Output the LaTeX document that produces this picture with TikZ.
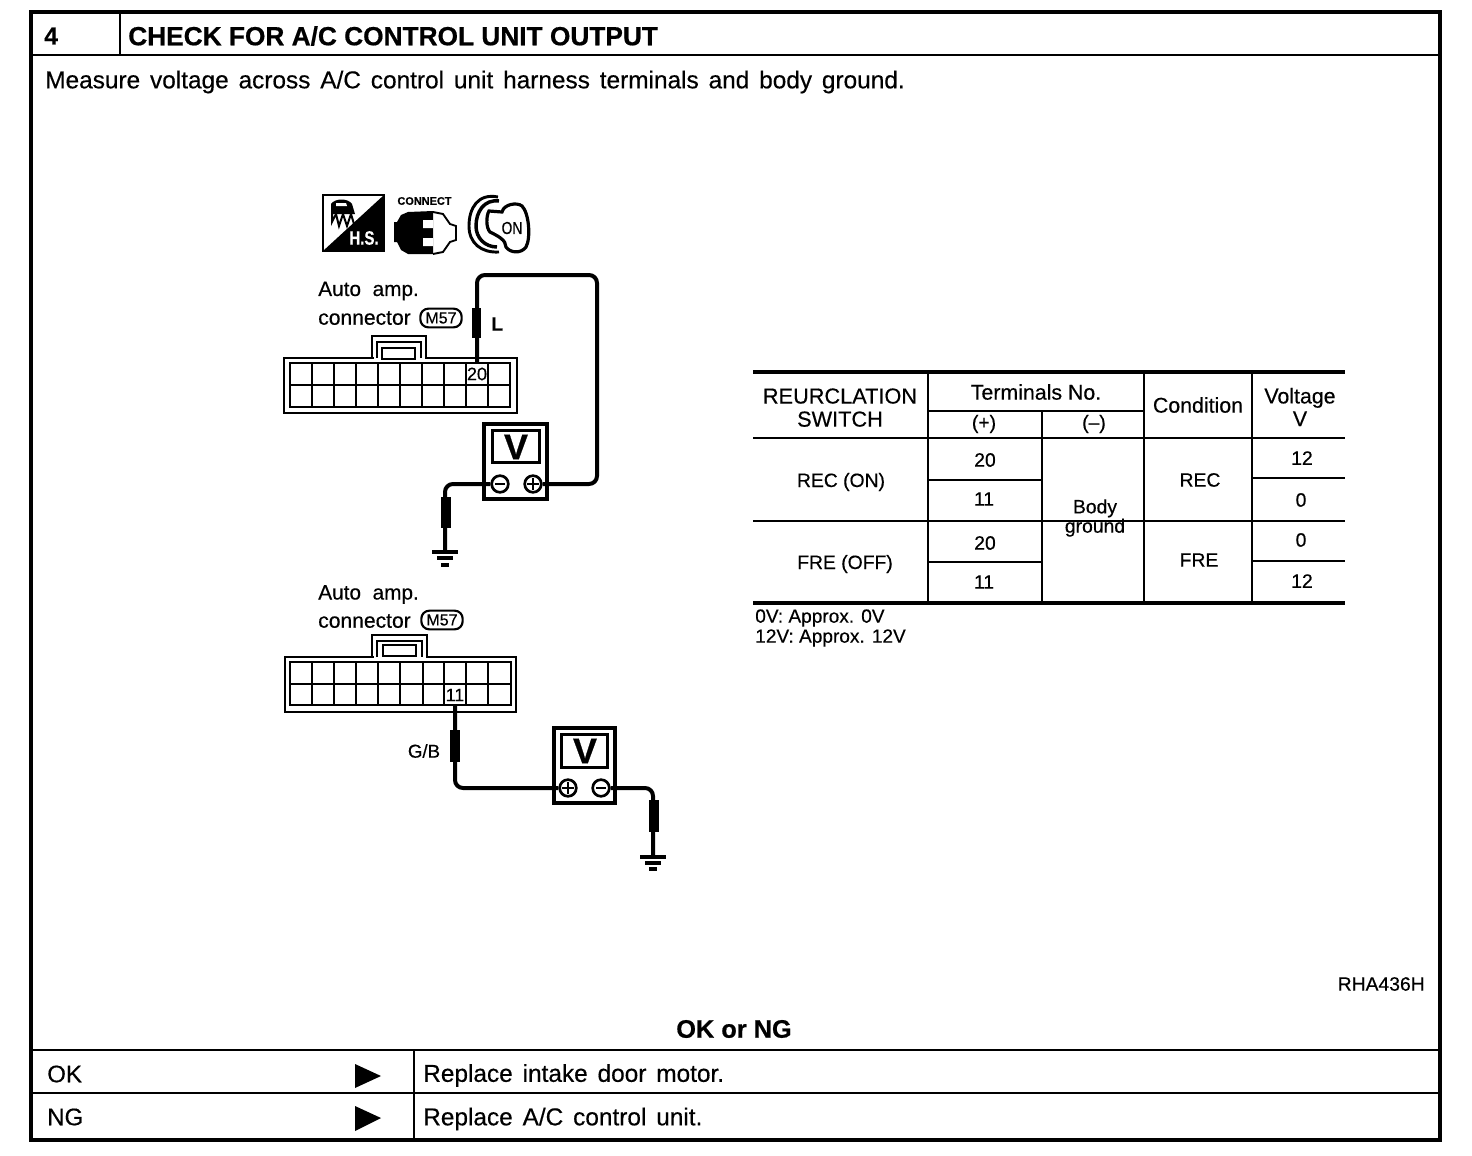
\documentclass[tikz,border=0pt]{standalone}
\usepackage{fontspec}
\setmainfont{Liberation Sans}
\newfontfamily\scan[FakeBold=0.4]{Liberation Sans}
\newfontfamily\scanb[FakeBold=0.6]{Liberation Sans Bold}
\newcommand\fs[1]{\fontsize{#1}{#1}\selectfont}
\newcommand\wsp{\spaceskip=7.4pt\relax}
\tikzset{
  txt/.style={inner sep=0pt,font=\scan\fs{14.5},align=center},
  ltxt/.style={inner sep=0pt,font=\scan\fs{#1},anchor=west},
  btxt/.style={inner sep=0pt,font=\scanb\fs{#1},anchor=west},
  frameline/.style={line width=3pt,line cap=rect},
  rule/.style={line width=1.7pt},
  trule/.style={line width=3pt},
  thin/.style={line width=1.4pt},
  conn/.style={line width=2pt},
  grid/.style={line width=1.8pt},
  wire/.style={line width=3pt,rounded corners=6pt},
  sleeve/.style={fill=black},
  meter/.style={line width=2.6pt,fill=white},
  screenbox/.style={draw,line width=2.4pt,inner sep=0pt},
  term/.style={circle,draw,line width=2pt,fill=white,minimum size=12.5pt,inner sep=0pt},
  mark line/.style={line width=1.7pt},
  badge/.style={draw,line width=1.6pt,rounded corners=6pt,minimum width=31pt,minimum height=14pt,inner sep=0pt,font=\scan\fs{12}},
  cell/.style={inner sep=0pt,minimum height=16pt,font=\scan\fs{13.5}},
  gnd/.style={line width=2.4pt},
}
\begin{document}
\begin{tikzpicture}[x=0.75pt,y=-0.75pt]
\useasboundingbox (0,0) rectangle (1472,1156);
% frame
\draw[frameline] (31,12) rectangle (1440,1140);
\draw[rule] (31,55) -- (1440,55);
\draw[rule] (120,12) -- (120,55);
\draw[rule] (31,1050) -- (1440,1050);
\draw[rule] (31,1093) -- (1440,1093);
\draw[rule] (414,1050) -- (414,1140);
\node[btxt=18.5] (num) at (44,36) {4};
\node[btxt=19.7] (title) at (128,36) {CHECK FOR A/C CONTROL UNIT OUTPUT};
\node[ltxt=18.3] (measure) at (45,82) {\wsp Measure voltage across A/C control unit harness terminals and body ground.};
\node[inner sep=0pt,font=\scanb\fs{19}] (oking) at (734,1029) {OK or NG};
\node[ltxt=18] (ok) at (47,1074) {OK};
\node[ltxt=18] (ng) at (47,1117) {NG};
\node[ltxt=18.3] (r1) at (423,1075.5) {\wsp Replace intake door motor.};
\node[ltxt=18.3] (r2) at (423,1119) {\wsp Replace A/C control unit.};
\fill (355,1064) -- (381,1076) -- (355,1088) -- cycle;
\fill (355,1106) -- (381,1118) -- (355,1131) -- cycle;
\node[txt,anchor=east] (code) at (1425,984) {RHA436H};

% icon 1
\draw[line width=1.6pt] (323,195) rectangle (384,251);
\fill (384,195) -- (384,251) -- (323,251) -- cycle;
\node[inner sep=0pt,text=white,font=\scanb\fs{14.5}] (hs) at (364,238) {\scalebox{0.78}[1]{H.S.}};
\fill (331,204) .. controls (335,198) and (348,198) .. (352,204) -- (355,214) -- (331,214) -- cycle;
\fill[white] (336,203) -- (346,203) -- (347,206) -- (336,206) -- cycle;
\draw[line width=1.5pt] (332,212) -- (332,222) -- (336,214) -- (339,226) -- (343,214) -- (347,226) -- (351,214) -- (354,224);
% icon 2
\node[inner sep=0pt,font=\scanb\fs{8.2}] (connect) at (424.5,201) {CONNECT};
\fill (394,222) -- (397,222) -- (401,215) -- (408,212) -- (433,211) -- (433,254) -- (408,254) -- (401,250) -- (397,242) -- (394,242) -- cycle;
\fill[white] (433,220) -- (423,220) -- (423,228) -- (433,228) -- (433,238) -- (423,238) -- (423,246) -- (433,246) -- cycle;
\draw[line width=1.4pt] (433,212) -- (443,214) -- (450,224) -- (456,226) -- (456,240) -- (450,242) -- (443,252) -- (433,254);
% icon 3
\draw[line width=2.2pt] (498,197) .. controls (478,193) and (469,208) .. (469,226) .. controls (469,243) and (481,253) .. (499,252);
\draw[line width=2.6pt] (499,201) .. controls (484,199) and (476,212) .. (476,226) .. controls (476,238) and (485,247) .. (497,247);
\draw[line width=2.4pt,fill=white] (489,211) -- (502,212) .. controls (504,204) and (517,202) .. (522,206) .. controls (529,213) and (531,238) .. (526,247) .. controls (521,254) and (510,253) .. (506,247) .. controls (506,240) and (498,236) .. (490,232) .. controls (486,228) and (486,216) .. (489,211) -- cycle;
\node[inner sep=0pt,font=\scan\fs{13}] (on) at (512,228) {\scalebox{0.8}[1]{ON}};

% connector 1
\node[ltxt=15.6] (a1) at (318,291) {Auto\ \ amp.};
\node[ltxt=15.8] (c1) at (318,318) {connector};
\node[badge] (m1) at (441,318) {M57};
\draw[conn] (284,358) rectangle (517,413);
\draw[conn] (372,358) -- (372,336) -- (426,336) -- (426,358);
\fill[white] (373.5,357) rectangle (424.5,359);
\draw[conn] (377,358) -- (377,342) -- (421,342) -- (421,358);
\draw[conn] (382,348) rectangle (415,359);
\draw[grid] (290,363) rectangle (510,407);
\draw[grid] (290,385) -- (510,385);
\foreach \x in {312,334,356,378,400,422,444,466,488} \draw[grid] (\x,363) -- (\x,407);
\node[cell] (t20) at (477,374) {20};
\coordinate (top1) at (597,275);

% meter 1
\node[draw,meter,minimum width=47pt,minimum height=56pt,inner sep=0pt] (v1) at (515.5,461.5) {};
\node[screenbox,minimum width=35pt,minimum height=24pt] (sc1) at (516,446.5) {};
\node[inner sep=0pt,font=\scanb\fs{27}] (vv1) at (516,447) {V};
\node[term] (mi1) at (500,484) {};
\node[term] (pl1) at (533,484) {};
\draw[wire] (t20.north) |- (top1) |- (pl1.east);
\fill[sleeve] (472,308) rectangle (481,338);
\draw[mark line] (495,484) -- (505,484);
\draw[mark line] (527,484) -- (539,484) (533,478) -- (533,490);
\coordinate (g1) at (445,552);
\draw[wire] (mi1.west) -| (g1);
\fill[sleeve] (441,497) rectangle (450.5,528);
\node[inner sep=0pt,anchor=west,font=\scanb\fs{14.5}] (ll) at (491,324) {L};
\draw[gnd] (432,552) -- (458,552) (437,558) -- (453,558);
\draw[line width=3pt] (441,565) -- (449,565);

% connector 2
\node[ltxt=15.6] (a2) at (318,594.5) {Auto\ \ amp.};
\node[ltxt=15.8] (c2) at (318,621) {connector};
\node[badge] (m2) at (442,620) {M57};
\draw[conn] (285,657) rectangle (516,712);
\draw[conn] (372,657) -- (372,635) -- (427,635) -- (427,657);
\fill[white] (373.5,656) rectangle (425.5,658);
\draw[conn] (377,657) -- (377,641) -- (422,641) -- (422,657);
\draw[conn] (383,645) rectangle (416,656);
\draw[grid] (290,662) rectangle (511,705);
\draw[grid] (290,684) -- (511,684);
\foreach \x in {312,334,356,378,400,423,444,466,488} \draw[grid] (\x,662) -- (\x,705);
\node[cell] (t11) at (455,695) {11};
\node[draw,meter,minimum width=46pt,minimum height=56pt,inner sep=0pt] (v2) at (584.5,765.5) {};
\node[screenbox,minimum width=35pt,minimum height=25pt] (sc2) at (584.5,751) {};
\node[inner sep=0pt,font=\scanb\fs{27}] (vv2) at (585,751) {V};
\node[term] (pl2) at (568,788) {};
\node[term] (mi2) at (601,788) {};
\coordinate (g2) at (653,857);
\draw[wire] (t11.south) |- (pl2.west);
\draw[wire] (mi2.east) -| (g2);
\fill[sleeve] (450,730) rectangle (459.5,762);
\fill[sleeve] (649,800) rectangle (658.5,832);
\draw[mark line] (562,788) -- (574,788) (568,782) -- (568,794);
\draw[mark line] (596,788) -- (606,788);
\node[txt,font=\scan\fs{14}] (gb) at (424,751) {G/B};
\draw[gnd] (640,857) -- (666,857) (645,863) -- (661,863);
\draw[line width=3pt] (649,869) -- (657,869);

% table
\draw[trule] (753,372) -- (1345,372);
\draw[trule] (753,603) -- (1345,603);
\draw[rule] (753,438) -- (1345,438);
\draw[line width=2pt] (753,521) -- (1345,521);
\draw[rule] (928,411) -- (1144,411);
\draw[rule] (928,480) -- (1042,480) (1252,478) -- (1345,478);
\draw[rule] (928,562) -- (1042,562) (1252,561) -- (1345,561);
\draw[thin] (928,372) -- (928,603);
\draw[thin] (1042,411) -- (1042,603);
\draw[thin] (1144,372) -- (1144,603);
\draw[thin] (1252,372) -- (1252,603);
\node[txt,font=\scan\fs{16.3},text depth=0pt] (sw) at (840,407.5) {REURCLATION\\[1pt]SWITCH};
\node[txt,font=\scan\fs{16}] (tn) at (1036,392) {Terminals No.};
\node[txt] (p) at (984,424) {(+)};
\node[txt] (m) at (1094,424) {(–)};
\node[txt,font=\scan\fs{16}] (cd) at (1198,405) {Condition};
\node[txt,font=\scan\fs{16}] (vt) at (1300,407) {Voltage\\[1pt]V};
\node[txt] (rec) at (841,482) {REC (ON)};
\node[txt] (fre) at (845,564) {FRE (OFF)};
\node[txt] (a20) at (985,460) {20};
\node[txt] (a11) at (984,499) {11};
\node[txt] (b20) at (985,543) {20};
\node[txt] (b11) at (984,582) {11};
\node[txt] (bg) at (1095,518) {Body\\[0pt]ground};
\node[txt] (crec) at (1200,480) {REC};
\node[txt] (cfre) at (1199,560) {FRE};
\node[txt] (v12a) at (1302,458) {12};
\node[txt] (v0a) at (1301,500) {0};
\node[txt] (v0b) at (1301,540) {0};
\node[txt] (v12b) at (1302,581) {12};
\node[ltxt=14.3] (n1) at (755,618) {0V: Approx. 0V};
\node[ltxt=14.3] (n2) at (755,638) {12V: Approx. 12V};
\end{tikzpicture}
\end{document}
